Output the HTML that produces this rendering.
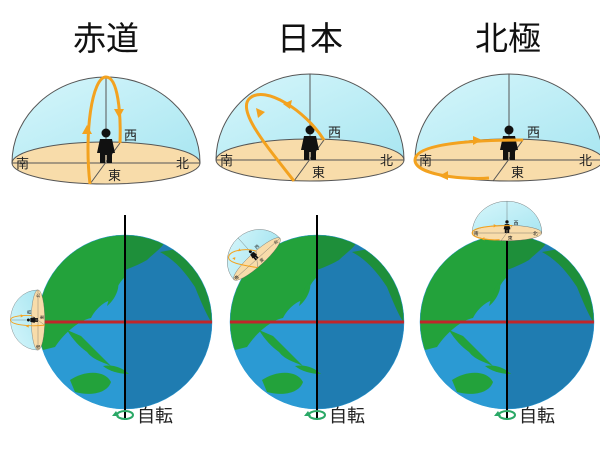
<!DOCTYPE html>
<html><head><meta charset="utf-8"><style>
html,body{margin:0;padding:0;background:#fff;}
svg{display:block;}
text{font-family:"Liberation Sans","Noto Sans CJK JP",sans-serif;}
</style></head><body>
<svg width="600" height="453" viewBox="0 0 600 453" xmlns="http://www.w3.org/2000/svg">
<defs>
<linearGradient id="sky" x1="0" y1="0" x2="1" y2="1">
<stop offset="0" stop-color="#d6f6fb"/><stop offset="1" stop-color="#a9e6f1"/></linearGradient>
<clipPath id="ec"><circle cx="0" cy="0" r="87"/></clipPath>
<g id="domebase">
<path d="M-94,0 A94,86 0 0 1 94,0 Z" fill="url(#sky)" stroke="#555" stroke-width="1"/>
<ellipse cx="0" cy="0" rx="94" ry="21" fill="#f8dcaa" stroke="#555" stroke-width="1"/>
<line x1="0" y1="-86" x2="0" y2="0" stroke="#555" stroke-width="1"/>
<line x1="-94" y1="0" x2="94" y2="0" stroke="#555" stroke-width="1"/>
<line x1="-16" y1="21" x2="14" y2="-20" stroke="#555" stroke-width="1"/>
<circle cx="0" cy="-30" r="4.5" fill="#111"/>
<path d="M-6,-24 H6 L9,-10 H6 V0 H1 V-8 H-1 V0 H-6 V-10 H-9 Z" fill="#111"/>
<text x="18" y="-23" font-size="13" fill="#222">西</text>
<text x="2" y="17" font-size="13" fill="#222">東</text>
<text x="-90" y="5" font-size="13" fill="#222">南</text>
<text x="70" y="5" font-size="13" fill="#222">北</text>
</g>
<g id="dome1">
<use href="#domebase"/>
<path d="M-16,21 C-22,-30 -14,-86 0,-86 C12,-86 15,-50 14,-20" fill="none" stroke="#f3a21f" stroke-width="3"/>
<path d="M-19,-38 l-5,9 h10 z" fill="#f3a21f"/>
<path d="M13,-45 l-5,-9 h10 z" fill="#f3a21f"/>
</g>
<g id="dome2">
<use href="#domebase"/>
<path d="M-16,21 C-40,-10 -75,-50 -60,-62 C-45,-75 -5,-50 14,-20" fill="none" stroke="#f3a21f" stroke-width="3"/>
<path d="M-52,-42 l-2,-10 l9,4 z" fill="#f3a21f"/>
<path d="M-20,-51 l-7,-5 l9,-4 z" fill="#f3a21f"/>
</g>
<g id="dome3">
<use href="#domebase"/>
<path d="M14,-20 C-40,-20 -94,-16 -94,0 C-94,16 -40,20 -20,18" fill="none" stroke="#f3a21f" stroke-width="3"/>
<path d="M-27,-20 l-9,-4 v9 z" fill="#f3a21f"/>
<path d="M-70,16 l9,-5 v9 z" fill="#f3a21f"/>
</g>
<g id="earth">
<g clip-path="url(#ec)">
<rect x="-90" y="-90" width="90" height="180" fill="#2b9ad3"/>
<rect x="0" y="-90" width="90" height="180" fill="#1f7cb1"/>
<path d="M-90,-90 H0 V-45 C-6,-40 -10,-30 -14,-22 C-22,-20 -30,-12 -34,-4 C-45,-2 -60,10 -70,25 L-90,30 Z" fill="#23a23b"/>
<path d="M0,-90 H45 C40,-75 30,-70 22,-62 C15,-58 8,-55 0,-52 Z" fill="#1e8f3a"/>
<path d="M35,-70 C50,-62 60,-50 70,-35 C78,-15 85,0 90,5 V-80 Z" fill="#1e8f3a"/>
<path d="M-8,-40 C-4,-36 -10,-22 -18,-16 C-15,-28 -12,-36 -8,-40 Z" fill="#23a23b"/>
<path d="M-58,8 C-52,18 -45,25 -38,30 C-32,38 -22,40 -14,44 C-24,34 -34,24 -44,14 Z" fill="#23a23b"/>
<path d="M-55,58 C-40,48 -20,48 -14,60 C-18,72 -36,74 -50,70 Z" fill="#23a23b"/>
<path d="M-22,44 C-12,42 -2,46 4,52 C-6,52 -16,49 -22,44Z" fill="#23a23b"/>
</g>
<circle cx="0" cy="0" r="87" fill="none" stroke="#2b9ad3" stroke-width="0.5"/>
<line x1="-87" y1="0" x2="87" y2="0" stroke="#c0262a" stroke-width="3"/>
<line x1="0" y1="-107" x2="0" y2="98" stroke="#000" stroke-width="2"/>
<ellipse cx="0" cy="93" rx="8" ry="4" fill="none" stroke="#2aa866" stroke-width="2"/>
<path d="M-9,89 l-4,5 h7 z" fill="#2aa866"/>
<text x="12" y="100" font-size="18" fill="#222">自転</text>
</g>
</defs>

<text x="106" y="50" font-size="33" text-anchor="middle" fill="#111">赤道</text>
<text x="310" y="50" font-size="33" text-anchor="middle" fill="#111">日本</text>
<text x="508" y="50" font-size="33" text-anchor="middle" fill="#111">北極</text>

<use href="#dome1" transform="translate(106,163)"/>
<use href="#dome2" transform="translate(310,160)"/>
<use href="#dome3" transform="translate(509,160)"/>

<use href="#earth" transform="translate(125,322)"/>
<use href="#earth" transform="translate(317,322)"/>
<use href="#earth" transform="translate(507,322)"/>

<use href="#dome1" transform="translate(38,320) rotate(-90) scale(0.32)"/>
<use href="#dome2" transform="translate(257,259) rotate(-42) scale(0.33)"/>
<use href="#dome3" transform="translate(507,233) scale(0.37)"/>
</svg>
</body></html>
